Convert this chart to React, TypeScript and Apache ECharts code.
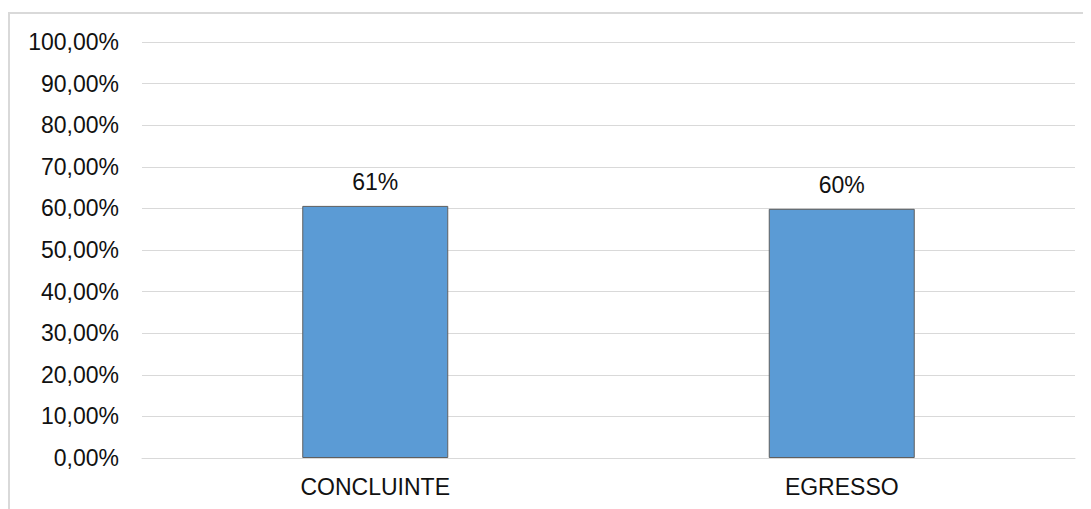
import React, { useEffect, useRef } from "react";
import * as echarts from "echarts";

// Share of respondents per group
const categories: string[] = ["CONCLUINTE", "EGRESSO"];
const shares: number[] = [0.606, 0.599];

// Value axis ticks: 0% .. 100% every 10%
const axisMin = 0;
const axisMax = 1;
const axisStep = 0.1;

const FONT = "'Liberation Sans', Arial, sans-serif";

export default function App() {
  const ref = useRef<HTMLDivElement>(null);

  useEffect(() => {
    if (!ref.current) return;
    const chart = echarts.init(ref.current, undefined, { renderer: "svg" });
    chart.setOption({
      animation: false,
      backgroundColor: "#ffffff",
      graphic: [
        {
          type: "rect",
          silent: true,
          shape: { x: 1, y: 5, width: 1300, height: 700 },
          style: { fill: "none", stroke: "#d9d9d9", lineWidth: 2 },
        },
      ],
      grid: { left: 134, right: 16, top: 34, bottom: 51, containLabel: false },
      xAxis: {
        type: "category",
        data: categories,
        axisLine: { show: true, lineStyle: { color: "#d9d9d9", width: 1 } },
        axisTick: { show: false },
        axisLabel: {
          color: "#111111",
          fontSize: 23,
          fontFamily: FONT,
          margin: 17,
        },
      },
      yAxis: {
        type: "value",
        min: axisMin,
        max: axisMax,
        interval: axisStep,
        axisLine: { show: false },
        axisTick: { show: false },
        splitLine: { show: true, lineStyle: { color: "#d9d9d9", width: 1 } },
        axisLabel: {
          color: "#111111",
          fontSize: 23,
          fontFamily: FONT,
          margin: 23,
          formatter: (v: number) => (v * 100).toFixed(2).replace(".", ",") + "%",
        },
      },
      series: [
        {
          type: "bar",
          data: shares,
          barWidth: 146,
          itemStyle: { color: "#5b9bd5", borderColor: "#5f5f5f", borderWidth: 1 },
          label: {
            show: true,
            position: "top",
            distance: 12,
            color: "#111111",
            fontSize: 23,
            fontFamily: FONT,
            formatter: (p: any) => Math.round(p.value * 100) + "%",
          },
        },
      ],
    });
    return () => chart.dispose();
  }, []);

  return <div ref={ref} style={{ width: 1083, height: 501 }} />;
}
